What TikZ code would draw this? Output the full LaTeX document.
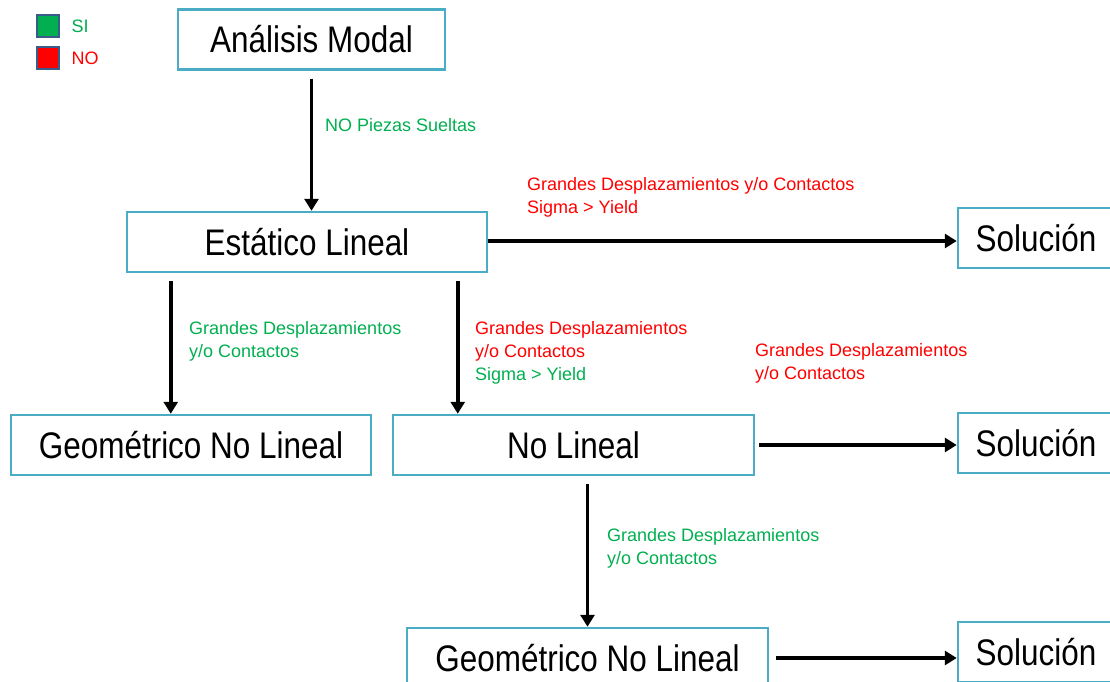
\documentclass[tikz,border=0pt]{standalone}
\usepackage{fontspec}
\setmainfont{Liberation Sans}
\newfontfamily\narrowfont[FakeStretch=0.85]{Liberation Sans}
\usetikzlibrary{positioning, arrows.meta, calc}

\definecolor{boxblue}{HTML}{4BACC6}
\definecolor{sigreen}{HTML}{00B050}
\definecolor{nored}{HTML}{FF0000}
\definecolor{keyborder}{HTML}{385D8A}

\tikzset{
    stage/.style={draw=boxblue, line width=2.5pt, fill=white, minimum width=360pt,
        minimum height=60pt, inner sep=0pt, font=\narrowfont\fontsize{37}{40}\selectfont},
    result/.style={stage, minimum width=156pt},
    flow/.style={line width=3.6pt, -{Triangle[length=12pt, width=14pt]}},
    cond/.style={anchor=west, align=left, inner sep=0pt, font=\fontsize{18}{23}\selectfont},
    key/.style={draw=keyborder, line width=2pt, minimum size=22pt, inner sep=0pt},
}

\begin{document}
\begin{tikzpicture}[x=1pt, y=-1pt]
    \clip (0,0) rectangle (1110,682);
    \fill[white] (0,0) rectangle (1110,682);

    % legend
    \node[key, fill=sigreen] (siKey) at (47.5,26.5) {};
    \node[key, fill=nored] (noKey) at (47.5,58.5) {};
    \node[cond, text=sigreen, right=12pt of siKey] (siLabel) {SI};
    \node[cond, text=nored, right=12pt of noKey] (noLabel) {NO};

    % stages
    \node[stage, minimum width=267pt] (modal) at (311.5,39.5) {Análisis Modal};
    \node[stage] (estatico) at (307,242) {Estático Lineal};
    \node[stage] (geom1) at (191,445) {Geométrico No Lineal};
    \node[stage, minimum width=361pt] (nolineal) at (573.5,445) {No Lineal};
    \node[stage, minimum width=361pt] (geom2) at (587.5,658) {Geométrico No Lineal};
    \node[result] (sol1) at (1036,238) {Solución};
    \node[result] (sol2) at (1036,443) {Solución};
    \node[result] (sol3) at (1036,652) {Solución};

    % connectors
    \draw[flow, shorten <=8pt] (modal.south) -- (modal.south |- estatico.north);
    \draw[flow] ([yshift=1pt]estatico.east) -- ([yshift=1pt]estatico.east -| sol1.west);
    \draw[flow, shorten <=8pt] ([xshift=45pt]estatico.south west)
        -- ([xshift=45pt]estatico.south west |- geom1.north);
    \draw[flow, shorten <=8pt] ([xshift=332pt]estatico.south west)
        -- ([xshift=332pt]estatico.south west |- nolineal.north);
    \draw[flow, shorten <=4pt] (nolineal.east) -- (nolineal.east -| sol2.west);
    \draw[flow, shorten <=8pt] (geom2.north |- nolineal.south) -- (geom2.north);
    \draw[flow, shorten <=7pt] (geom2.east) -- (geom2.east -| sol3.west);

    % conditions
    \node[cond, text=sigreen] (piezas) at (325,125) {NO Piezas Sueltas};
    \node[cond, text=nored] (yield1) at (527,197.5) {Grandes Desplazamientos y/o Contactos\\Sigma > Yield};
    \node[cond, text=sigreen] (gd1) at (189,341.5) {Grandes Desplazamientos\\y/o Contactos};
    \node[cond, text=nored] (gd2) at (475,341.5) {Grandes Desplazamientos\\y/o Contactos};
    \node[cond, text=sigreen] (yield2) at (475,376) {Sigma > Yield};
    \node[cond, text=nored] (gd3) at (755,363) {Grandes Desplazamientos\\y/o Contactos};
    \node[cond, text=sigreen] (gd4) at (607,548) {Grandes Desplazamientos\\y/o Contactos};
\end{tikzpicture}
\end{document}
